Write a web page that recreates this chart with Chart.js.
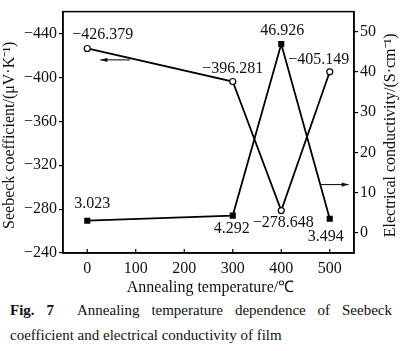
<!DOCTYPE html>
<html>
<head>
<meta charset="utf-8">
<script src="https://cdn.jsdelivr.net/npm/chart.js@4"></script>
<style>
  html, body { margin: 0; padding: 0; background: #fff; }
  canvas { display: block; }
  .cap { font-family: "Liberation Serif", serif; font-size: 15px; color: #111; margin: 0 8px 0 10px; line-height: 25px; }
  .l1 { text-align: justify; text-align-last: justify; }
</style>
</head>
<body>
<canvas id="chart" width="400" height="298"></canvas>
<div class="cap l1"><b>Fig.&nbsp;7</b>&nbsp; Annealing temperature dependence of Seebeck</div>
<div class="cap">coefficient and electrical conductivity of film</div>
<script>
// values
const temperatures = [0, 300, 400, 500];
const seebeck = [-426.379, -396.281, -278.648, -405.149];
const conductivity = [3.023, 4.292, 46.926, 3.494];
const xTicks = [0, 100, 200, 300, 400, 500];
const seebeckTicks = [-440, -400, -360, -320, -280, -240];
const conductivityTicks = [0, 10, 20, 30, 40, 50];

// label offsets in px (dx, dy) and alignment
const seebeckLabelPos = [[-15, -14, "left"], [0, -13, "center"], [2, 12, "center"], [-11, -12, "center"]];
const condLabelPos = [[5, -17, "center"], [-1, 13, "center"], [1, -13, "center"], [-4, 18, "center"]];

// arrows in data units: [x1, x2, y, axis]
const arrows = [[88, 27, -416, "yS"], [481, 539, 12, "yC"]];

const serif = "Liberation Serif";
const ink = "#111";
const minus = v => String(v).replace("-", "\u2212");
const pts = arr => temperatures.map((t, i) => ({ x: t, y: arr[i] }));

const labelsPlugin = {
  id: "extras",
  afterDatasetsDraw(chart) {
    const { ctx, chartArea: a, scales } = chart;
    ctx.save();
    // frame
    ctx.strokeStyle = "#000";
    ctx.lineWidth = 1.5;
    ctx.strokeRect(a.left, a.top, a.right - a.left, a.bottom - a.top);
    // inward x ticks
    ctx.lineWidth = 1.2;
    xTicks.forEach(v => {
      const x = scales.x.getPixelForValue(v);
      ctx.beginPath();
      ctx.moveTo(x, a.bottom);
      ctx.lineTo(x, a.bottom - 4);
      ctx.stroke();
    });
    // data labels
    ctx.fillStyle = ink;
    ctx.font = '16px "Liberation Serif", serif';
    ctx.textBaseline = "middle";
    const sets = [[0, seebeck, seebeckLabelPos], [1, conductivity, condLabelPos]];
    sets.forEach(([di, vals, pos]) => {
      const meta = chart.getDatasetMeta(di);
      meta.data.forEach((p, i) => {
        ctx.textAlign = pos[i][2];
        ctx.fillText(minus(vals[i].toFixed(3)), p.x + pos[i][0], p.y + pos[i][1]);
      });
    });
    // arrows
    ctx.lineWidth = 1;
    arrows.forEach(([x1, x2, yv, ax]) => {
      const px1 = scales.x.getPixelForValue(x1);
      const px2 = scales.x.getPixelForValue(x2);
      const py = scales[ax].getPixelForValue(yv);
      const dir = Math.sign(px2 - px1);
      ctx.beginPath();
      ctx.moveTo(px1, py);
      ctx.lineTo(px2, py);
      ctx.stroke();
      ctx.beginPath();
      ctx.moveTo(px2, py);
      ctx.lineTo(px2 - dir * 7, py - 2.2);
      ctx.lineTo(px2 - dir * 7, py + 2.2);
      ctx.closePath();
      ctx.fill();
    });
    // axis titles
    const cy = (a.top + a.bottom) / 2 + 3;
    ctx.textAlign = "center";
    ctx.save();
    ctx.translate(10, cy);
    ctx.rotate(-Math.PI / 2);
    ctx.fillText("Seebeck coefficient/(\u03bcV\u00b7K\u207b\u00b9)", 0, 0);
    ctx.restore();
    ctx.save();
    ctx.translate(391, cy);
    ctx.rotate(-Math.PI / 2);
    ctx.fillText("Electrical conductivity/(S\u00b7cm\u207b\u00b9)", 0, 0);
    ctx.restore();
    ctx.fillText("Annealing temperature/\u2103", (a.left + a.right) / 2 + 2, a.bottom + 35);
    ctx.restore();
  }
};

const tickFont = { family: serif, size: 16 };

function draw() {
  new Chart(document.getElementById("chart"), {
    type: "line",
    data: {
      datasets: [
        {
          label: "Seebeck coefficient",
          data: pts(seebeck),
          yAxisID: "yS",
          borderColor: "#000",
          borderWidth: 1.8,
          pointStyle: "circle",
          pointRadius: 3,
          pointBackgroundColor: "#fff",
          pointBorderColor: "#000",
          pointBorderWidth: 1.2,
        },
        {
          label: "Electrical conductivity",
          data: pts(conductivity),
          yAxisID: "yC",
          borderColor: "#000",
          borderWidth: 1.8,
          pointStyle: "rect",
          pointRadius: 4.3,
          pointBackgroundColor: "#000",
          pointBorderColor: "#000",
          pointBorderWidth: 0,
        },
      ],
    },
    options: {
      responsive: false,
      animation: false,
      devicePixelRatio: 1,
      layout: { padding: { top: 1, left: 0, right: 0, bottom: 0 } },
      plugins: { legend: { display: false }, tooltip: { enabled: false } },
      scales: {
        x: {
          type: "linear",
          min: -50,
          max: 550,
          afterBuildTicks: s => { s.ticks = xTicks.map(v => ({ value: v })); },
          afterFit: s => { s.height = 45; },
          grid: { drawOnChartArea: false, drawTicks: false },
          border: { color: "#000", width: 1.5 },
          ticks: { font: tickFont, color: ink, padding: 6, maxRotation: 0 },
        },
        yS: {
          position: "left",
          reverse: true,
          min: -460,
          max: -240,
          afterBuildTicks: s => { s.ticks = seebeckTicks.map(v => ({ value: v })); },
          afterFit: s => { s.width = 63; },
          grid: { drawOnChartArea: false, tickLength: 4, color: "#000", lineWidth: 1.2 },
          border: { color: "#000", width: 1.5 },
          ticks: { font: tickFont, color: ink, padding: 2, callback: v => minus(v) },
        },
        yC: {
          position: "right",
          min: -5,
          max: 55,
          afterBuildTicks: s => { s.ticks = conductivityTicks.map(v => ({ value: v })); },
          afterFit: s => { s.width = 46; },
          grid: { drawOnChartArea: false, tickLength: 4, color: "#000", lineWidth: 1.2 },
          border: { color: "#000", width: 1.5 },
          ticks: { font: tickFont, color: ink, padding: 2 },
        },
      },
    },
    plugins: [labelsPlugin],
  });
}

document.fonts.load('16px "Liberation Serif"').then(draw, draw);
</script>
</body>
</html>
